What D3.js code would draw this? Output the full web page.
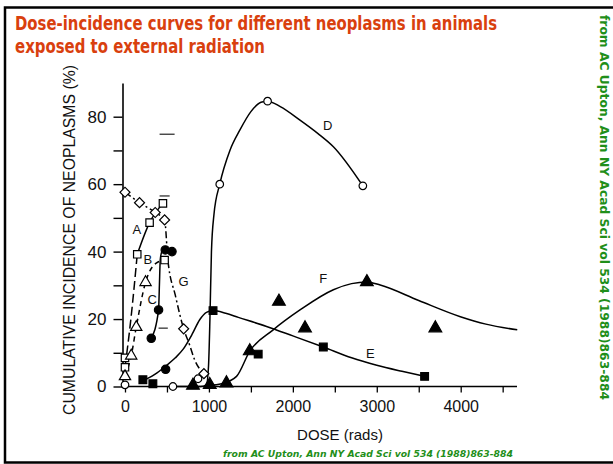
<!DOCTYPE html>
<html><head><meta charset="utf-8">
<script src="https://cdn.jsdelivr.net/npm/d3@7/dist/d3.min.js"></script>
<style>body{margin:0;background:#fff}svg{display:block}</style>
</head><body>
<script>
// ---- data (dose in rads, incidence in %) ----
const xTicks = [0,500,1000,1500,2000,2500,3000,3500,4000,4500];
const xTickLabels = ["0","1000","2000","3000","4000"];
const yTicks = [0,10,20,30,40,50,60,70,80];
const yTickLabels = ["0","20","40","60","80"];

// fitted curves (as drawn in the figure)
const curveD = [[600,0],[900,0],[970,0.5],[995,6],[1012,20],[1030,40],[1060,51],[1129,60],[1250,70],[1368,76],[1500,81.5],[1620,84.3],[1699,84.6],[1850,83],[2085,79],[2300,75],[2483,71.1],[2834,59.5]];
const curveE = [[200,1.5],[350,3.5],[484,6],[600,8.5],[691,11],[800,15.5],[890,19.8],[970,22],[1049,22.5],[1200,21.7],[1350,20.5],[1687,17.8],[2000,15],[2363,11.7],[2700,8.5],[3000,6.3],[3300,4.5],[3570,3]];
const curveF = [[1000,0.3],[1150,0.8],[1329,3],[1487,10.5],[1766,16.8],[2085,22.7],[2483,28.7],[2700,30.5],[2882,31],[3041,30.1],[3500,25.5],[3996,20.7],[4300,18.5],[4674,16.8]];
const curveA = [[146,39.2],[293,48.6],[452,54.3]];
const curveAlow = [[0,5.7],[70,20],[146,39.2]];
const curveB = [[0,3],[74,9.1],[134,17.6],[245,30.9],[372,36.6],[472,37.5]];
const curveC = [[313,14.3],[400,22.7],[410,30],[420,37.5],[440,40],[480,40.5]];
const curveG = [[0,57.6],[173,54.5],[360,51.6],[472,49.4],[511,37.5],[600,27],[699,17.1],[770,12.3],[830,7.9],[940,3.8]];

// plotted symbols
const openCircles = [[0,0.5],[571,0],[870,2.3],[1129,60],[1699,84.6],[2834,59.5]];
const openSquares = [[0,8.5],[0,5.7],[146,39.2],[293,48.6],[452,54.3],[472,37.5]];
const openTriangles = [[0,3],[74,9.1],[134,17.6],[245,30.9]];
const openDiamonds = [[0,57.6],[173,54.5],[360,51.6],[472,49.4],[699,17.1],[940,3.8]];
const filledCircles = [[313,14.3],[400,22.7],[480,40.5],[560,40],[484,5.1]];
const filledSquares = [[213,2],[332,0.8],[1049,22.5],[1587,9.6],[2363,11.7],[3570,3]];
const filledTriangles = [[810,0.3],[1010,0.5],[1209,1],[1487,10.5],[1834,25.2],[2145,17.3],[2882,31],[3698,17.3]];

const curveLabels = [["A",141,46.5],["B",272,37.7],["C",325,25.9],["G",699,31.1],["D",2416,77.3],["E",2922,9.7],["F",2363,31.9]];
const capMarks = [[412,591,74.8],[412,532,56.5],[400,510,17.3]];

const titleLines = ["Dose-incidence curves for different neoplasms in animals","exposed to external radiation"];
const sourceText = "from AC Upton, Ann NY Acad Sci vol 534 (1988)863-884";

// ---- drawing ----
const W = 613, H = 464;
const svg = d3.select("body").append("svg").attr("width", W).attr("height", H);
svg.append("rect").attr("width", W).attr("height", H).attr("fill", "#fff");

// slide frame
svg.append("path").attr("d", `M${W+5},7.5 H5 V462.5 H${W+5}`).attr("fill","none").attr("stroke","#000").attr("stroke-width",2.5);

// title
const title = svg.append("g").attr("fill", "#d9400e").attr("font-family", "'Liberation Sans Narrow','DejaVu Sans Condensed','Liberation Sans',sans-serif").attr("font-weight", "bold").attr("font-size", 19);
title.append("text").attr("x", 15).attr("y", 30).attr("textLength", 482).attr("lengthAdjust", "spacingAndGlyphs").text(titleLines[0]);
title.append("text").attr("x", 15).attr("y", 53).attr("textLength", 250).attr("lengthAdjust", "spacingAndGlyphs").text(titleLines[1]);

// green source texts
const green = "#1f8f1a";
svg.append("text").attr("transform", "translate(600,15) rotate(90)").attr("fill", green)
  .attr("font-family","'DejaVu Sans','Liberation Sans',sans-serif").attr("font-weight","bold").attr("font-size",12.5)
  .attr("textLength", 385).attr("lengthAdjust","spacingAndGlyphs").text(sourceText);
svg.append("text").attr("x", 368).attr("y", 457).attr("text-anchor","middle").attr("fill", green)
  .attr("font-family","'DejaVu Sans','Liberation Sans',sans-serif").attr("font-weight","bold").attr("font-style","italic").attr("font-size",9.5)
  .attr("textLength", 290).attr("lengthAdjust","spacingAndGlyphs").text(sourceText);

// scales
const x = d3.scaleLinear().domain([0, 4000]).range([125, 460.7]);
const y = d3.scaleLinear().domain([0, 80]).range([386.5, 116.7]);
const y90 = d3.scaleLinear().domain([0, 90]).range([y(0), y(90)]);

const axisFont = "'Liberation Sans',Arial,sans-serif";

// y axis
const yAxis = d3.axisLeft(y90).tickValues(yTicks).tickSize(9).tickSizeOuter(0)
  .tickFormat(d => yTickLabels.includes(String(d)) ? String(d) : "");
const gy = svg.append("g").attr("transform", "translate(122.5,0)").call(yAxis);
gy.select(".domain").attr("stroke-width", 1.6);
gy.selectAll(".tick line").attr("stroke-width", 1.4);
gy.selectAll(".tick text").attr("font-family", axisFont).attr("font-size", 17).attr("fill","#111").attr("dx", -4);

// x axis
const xAxis = d3.axisBottom(x).tickValues(xTicks).tickSize(6).tickSizeOuter(0)
  .tickFormat(d => xTickLabels.includes(String(d)) ? String(d) : "");
const gx = svg.append("g").attr("transform", `translate(0,${y(0)})`).call(xAxis);
gx.select(".domain").remove();
gx.append("line").attr("x1", 122).attr("x2", 517).attr("stroke","#000").attr("stroke-width",1.6);
gx.selectAll(".tick line").attr("stroke-width", 1.3);
gx.selectAll(".tick text").attr("font-family", axisFont).attr("font-size", 16).attr("fill","#111").attr("dy", "1.05em");

// axis titles
svg.append("text").attr("transform", "translate(75,240) rotate(-90)").attr("text-anchor","middle")
  .attr("font-family", axisFont).attr("font-size", 16).attr("fill","#111")
  .attr("textLength", 350).attr("lengthAdjust","spacingAndGlyphs")
  .text("CUMULATIVE INCIDENCE OF NEOPLASMS (%)");
svg.append("text").attr("x", 340).attr("y", 440).attr("text-anchor","middle")
  .attr("font-family", axisFont).attr("font-size", 15).attr("fill","#111").text("DOSE (rads)");

// curves
const line = d3.line().x(d => x(d[0])).y(d => y(d[1])).curve(d3.curveMonotoneX);
const curves = svg.append("g").attr("fill","none").attr("stroke","#000").attr("stroke-width",1.5);
curves.append("path").attr("d", line(curveD));
curves.append("path").attr("d", line(curveE));
curves.append("path").attr("d", line(curveF));
curves.append("path").attr("d", line(curveA));
curves.append("path").attr("d", line(curveAlow)).attr("stroke-dasharray","9,4");
curves.append("path").attr("d", line(curveB)).attr("stroke-dasharray","5,4");
curves.append("path").attr("d", line(curveC));
curves.append("path").attr("d", line(curveG)).attr("stroke-dasharray","7,3,2,3");

// cap marks
svg.append("g").selectAll("line").data(capMarks).join("line")
  .attr("x1", d => x(d[0])).attr("x2", d => x(d[1])).attr("y1", d => y(d[2])).attr("y2", d => y(d[2]))
  .attr("stroke","#333").attr("stroke-width",1.3);

// symbols
function sym(data, type, size, filled){
  svg.append("g").selectAll("path").data(data).join("path")
    .attr("transform", d => `translate(${x(d[0])},${y(d[1])})`)
    .attr("d", d3.symbol().type(type).size(size))
    .attr("fill", filled ? "#000" : "#fff").attr("stroke","#000").attr("stroke-width",1.2);
}
sym(openCircles, d3.symbolCircle, 45, false);
sym(openSquares, d3.symbolSquare, 55, false);
sym(openTriangles, d3.symbolTriangle, 55, false);
svg.append("g").selectAll("path").data(openDiamonds).join("path")
  .attr("transform", d => `translate(${x(d[0])},${y(d[1])}) rotate(45)`)
  .attr("d", d3.symbol().type(d3.symbolSquare).size(50))
  .attr("fill","#fff").attr("stroke","#000").attr("stroke-width",1.2);
sym(filledCircles, d3.symbolCircle, 55, true);
sym(filledSquares, d3.symbolSquare, 60, true);
sym(filledTriangles, d3.symbolTriangle, 70, true);

// curve labels
svg.append("g").selectAll("text").data(curveLabels).join("text")
  .attr("x", d => x(d[1])).attr("y", d => y(d[2])).attr("dy","0.35em").attr("text-anchor","middle")
  .attr("font-family", axisFont).attr("font-size", 13).attr("fill","#111").text(d => d[0]);
</script>
</body></html>
